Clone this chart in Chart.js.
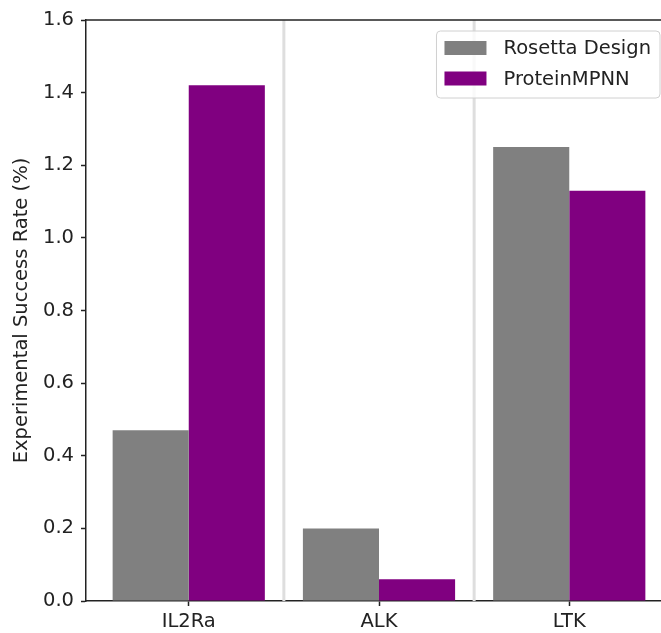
<!DOCTYPE html>
<html>
<head>
<meta charset="utf-8">
<script src="https://cdn.jsdelivr.net/npm/chart.js@4"></script>
<style>
    html, body { margin: 0; padding: 0; background: #fff; overflow: hidden; }
    #wrap { width: 661px; height: 633px; overflow: hidden; position: relative; }
    canvas { display: block; }
</style>
</head>
<body>
<div id="wrap"><canvas id="chart" width="720" height="633"></canvas></div>
<script>
// Data
const categories = ['IL2Ra', 'ALK', 'LTK'];
const rosettaValues = [0.47, 0.20, 1.25];
const mpnnValues = [1.42, 0.06, 1.13];
const seriesLabels = ['Rosetta Design', 'ProteinMPNN'];
const seriesColors = ['#808080', '#800080'];
const yTicks = [0, 0.2, 0.4, 0.6, 0.8, 1.0, 1.2, 1.4, 1.6];
const separators = [0.5, 1.5];

const FONT = 'DejaVu Sans';
const INK = '#222222';
const VISIBLE_W = 661;

function toPoints(values) {
    return values.map((v, i) => ({ x: i, y: v }));
}

// light vertical lines between the groups, drawn behind the bars
const separatorPlugin = {
    id: 'separators',
    beforeDatasetsDraw(chart) {
        const { ctx, chartArea, scales } = chart;
        ctx.save();
        ctx.strokeStyle = '#dedede';
        ctx.lineWidth = 3;
        separators.forEach(s => {
            const px = scales.x.getPixelForValue(s);
            ctx.beginPath();
            ctx.moveTo(px, chartArea.top);
            ctx.lineTo(px, chartArea.bottom);
            ctx.stroke();
        });
        ctx.restore();
    }
};

// top spine; the picture is cropped before the right spine
const framePlugin = {
    id: 'frame',
    afterDraw(chart) {
        const { ctx, chartArea } = chart;
        ctx.save();
        // keep the cropped right edge clean
        ctx.fillStyle = '#ffffff';
        ctx.fillRect(VISIBLE_W - 3, chartArea.top + 1, chart.width - VISIBLE_W + 3, chartArea.bottom - chartArea.top - 2);
        ctx.strokeStyle = INK;
        ctx.lineWidth = 1.5;
        ctx.beginPath();
        ctx.moveTo(chartArea.left, chartArea.top);
        ctx.lineTo(chartArea.right, chartArea.top);
        ctx.stroke();
        ctx.restore();
    }
};

// matplotlib style legend box in the upper right
const boxLegendPlugin = {
    id: 'boxLegend',
    afterDraw(chart) {
        const ctx = chart.ctx;
        const datasets = chart.data.datasets;
        ctx.save();
        ctx.font = '19.5px "' + FONT + '"';
        const textW = Math.max(...datasets.map(d => ctx.measureText(d.label).width));
        const w = 67 + textW + 9;
        const h = 67;
        const x = VISIBLE_W - 1 - w;
        const y = 31;

        ctx.beginPath();
        ctx.roundRect(x, y, w, h, 4);
        ctx.fillStyle = 'rgba(255,255,255,0.8)';
        ctx.fill();
        ctx.strokeStyle = '#d0d0d0';
        ctx.lineWidth = 1;
        ctx.stroke();

        datasets.forEach((d, i) => {
            const cy = y + 17 + i * 30.5;
            ctx.fillStyle = d.backgroundColor;
            ctx.fillRect(x + 8, cy - 7, 42, 14);
            ctx.fillStyle = INK;
            ctx.textBaseline = 'middle';
            ctx.textAlign = 'left';
            ctx.fillText(d.label, x + 67, cy + 1);
        });
        ctx.restore();
    }
};

new Chart(document.getElementById('chart'), {
    type: 'bar',
    data: {
        datasets: [
            { label: seriesLabels[0], data: toPoints(rosettaValues), backgroundColor: seriesColors[0] },
            { label: seriesLabels[1], data: toPoints(mpnnValues), backgroundColor: seriesColors[1] }
        ]
    },
    options: {
        responsive: false,
        animation: false,
        categoryPercentage: 0.8,
        barPercentage: 1.0,
        layout: { padding: { top: 20, right: 48, left: 0, bottom: 0 } },
        plugins: {
            legend: { display: false },
            tooltip: { enabled: false }
        },
        scales: {
            x: {
                type: 'linear',
                min: -0.54,
                max: 2.54,
                offset: false,
                afterBuildTicks: scale => {
                    scale.ticks = categories.map((c, i) => ({ value: i }));
                },
                afterFit: scale => { scale.height = 32; },
                ticks: {
                    autoSkip: false,
                    maxRotation: 0,
                    padding: 4,
                    color: INK,
                    font: { family: FONT, size: 19.5 },
                    callback: value => categories[value]
                },
                grid: {
                    offset: false,
                    drawOnChartArea: false,
                    tickColor: INK,
                    tickWidth: 1.5,
                    tickLength: 5
                },
                border: { display: true, color: INK, width: 1.5 }
            },
            y: {
                min: 0,
                max: 1.6,
                afterBuildTicks: scale => { scale.ticks = yTicks.map(v => ({ value: v })); },
                afterFit: scale => { scale.width = 86; },
                ticks: {
                    padding: 7,
                    color: INK,
                    font: { family: FONT, size: 19.5 },
                    callback: value => value.toFixed(1)
                },
                grid: {
                    drawOnChartArea: false,
                    tickColor: INK,
                    tickWidth: 1.5,
                    tickLength: 5
                },
                border: { display: true, color: INK, width: 1.5 },
                title: {
                    display: true,
                    text: 'Experimental Success Rate (%)',
                    color: INK,
                    font: { family: FONT, size: 19.5 },
                    padding: { top: 10, bottom: 0 }
                }
            }
        }
    },
    plugins: [separatorPlugin, framePlugin, boxLegendPlugin]
});
</script>
</body>
</html>
